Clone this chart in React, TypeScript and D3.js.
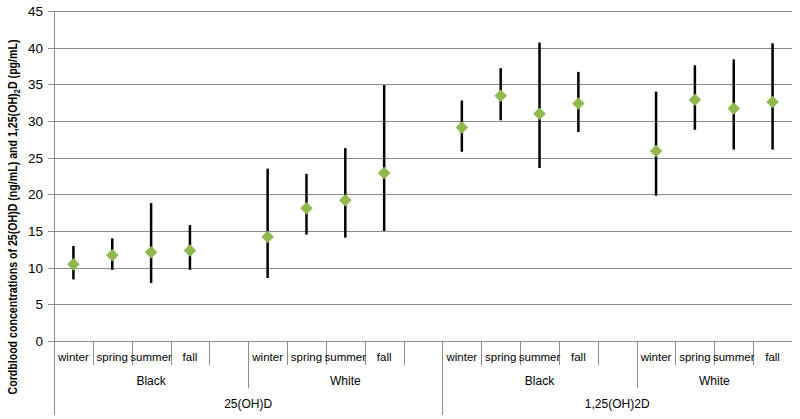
import React, { useRef, useEffect } from "react";
import * as d3 from "d3";

// seasons within each race group
const seasons = ["winter", "spring", "summer", "fall"];
const races = ["Black", "White"];
const analytes = ["25(OH)D", "1,25(OH)2D"];

// values in order: 25(OH)D Black, 25(OH)D White, 1,25 Black, 1,25 White
const means = [
  10.45, 11.7, 12.1, 12.35,
  14.2, 18.1, 19.2, 22.9,
  29.1, 33.45, 31.0, 32.4,
  25.9, 32.9, 31.7, 32.6,
];
const lows = [
  8.4, 9.7, 7.9, 9.7,
  8.6, 14.5, 14.1, 15.0,
  25.8, 30.1, 23.6, 28.5,
  19.8, 28.8, 26.1, 26.1,
];
const highs = [
  12.95, 14.0, 18.8, 15.8,
  23.5, 22.8, 26.3, 34.9,
  32.8, 37.2, 40.7, 36.7,
  34.0, 37.6, 38.4, 40.6,
];
const yTicks = [0, 5, 10, 15, 20, 25, 30, 35, 40, 45];

function App() {
  const svgRef = useRef(null);

  useEffect(() => {
    const width = 800;
    const height = 419;
    const margin = { top: 11, right: 8, bottom: 78, left: 54 };
    const axisY = height - margin.bottom;

    const svg = d3.select(svgRef.current).attr("width", width).attr("height", height);
    svg.selectAll("*").remove();

    // build slots: 4 seasons + a blank after each race group except the last
    const slots = [];
    const points = [];
    let k = 0;
    analytes.forEach((a, ai) => {
      races.forEach((r, ri) => {
        seasons.forEach((s) => {
          const id = `${a}|${r}|${s}`;
          slots.push({ id, label: s, analyte: a, race: r });
          points.push({ id, mean: means[k], lo: lows[k], hi: highs[k] });
          k++;
        });
        const last = ai === analytes.length - 1 && ri === races.length - 1;
        if (!last) slots.push({ id: `${a}|${r}|blank`, label: "", analyte: a, race: r });
      });
    });

    const x = d3
      .scaleBand()
      .domain(slots.map((d) => d.id))
      .range([margin.left, width - margin.right])
      .padding(0);
    const y = d3.scaleLinear().domain([0, 45]).range([axisY, margin.top]);

    const font = "'Liberation Sans', Arial, sans-serif";

    // gridlines
    svg.append("g")
      .selectAll("line")
      .data(yTicks)
      .enter()
      .append("line")
      .attr("x1", margin.left - 6)
      .attr("x2", width - margin.right)
      .attr("y1", (d) => Math.round(y(d)) + 0.5)
      .attr("y2", (d) => Math.round(y(d)) + 0.5)
      .attr("stroke", "#8c8c8c")
      .attr("stroke-width", 1);

    // y tick labels
    svg.append("g")
      .selectAll("text")
      .data(yTicks)
      .enter()
      .append("text")
      .attr("x", margin.left - 11)
      .attr("y", (d) => y(d) + 5)
      .attr("text-anchor", "end")
      .attr("font-family", font)
      .attr("font-size", 13.5)
      .attr("fill", "#000")
      .text((d) => d);

    // left axis line, runs down through the category levels
    svg.append("line")
      .attr("x1", margin.left + 0.5)
      .attr("x2", margin.left + 0.5)
      .attr("y1", margin.top)
      .attr("y2", height - 4)
      .attr("stroke", "#8c8c8c");

    // category tick marks
    const level1 = axisY + 24;
    const level2 = axisY + 47;
    const level3 = height - 4;
    slots.forEach((s, i) => {
      if (i === 0) return;
      const prev = slots[i - 1];
      let y2 = level1;
      if (prev.analyte !== s.analyte) y2 = level3;
      else if (prev.race !== s.race) y2 = level2;
      const xp = Math.round(x(s.id)) + 0.5;
      svg.append("line")
        .attr("x1", xp)
        .attr("x2", xp)
        .attr("y1", axisY)
        .attr("y2", y2)
        .attr("stroke", "#8c8c8c");
    });

    // season labels
    svg.append("g")
      .selectAll("text")
      .data(slots.filter((d) => d.label))
      .enter()
      .append("text")
      .attr("x", (d) => x(d.id) + x.bandwidth() / 2)
      .attr("y", axisY + 20)
      .attr("text-anchor", "middle")
      .attr("font-family", font)
      .attr("font-size", 11.5)
      .text((d) => d.label);

    // race labels
    const raceGroups = d3.groups(slots, (d) => d.analyte + "|" + d.race);
    raceGroups.forEach(([, g]) => {
      const x0 = x(g[0].id);
      const x1 = x(g[g.length - 1].id) + x.bandwidth();
      svg.append("text")
        .attr("x", (x0 + x1) / 2)
        .attr("y", axisY + 44)
        .attr("text-anchor", "middle")
        .attr("font-family", font)
        .attr("font-size", 12)
        .text(g[0].race);
    });

    // analyte labels
    const analyteGroups = d3.groups(slots, (d) => d.analyte);
    analyteGroups.forEach(([a, g]) => {
      const x0 = x(g[0].id);
      const x1 = x(g[g.length - 1].id) + x.bandwidth();
      svg.append("text")
        .attr("x", (x0 + x1) / 2)
        .attr("y", axisY + 67)
        .attr("text-anchor", "middle")
        .attr("font-family", font)
        .attr("font-size", 12)
        .text(a);
    });

    // error bars
    const cx = (d) => x(d.id) + x.bandwidth() / 2;
    svg.append("g")
      .selectAll("line")
      .data(points)
      .enter()
      .append("line")
      .attr("x1", cx)
      .attr("x2", cx)
      .attr("y1", (d) => y(d.lo))
      .attr("y2", (d) => y(d.hi))
      .attr("stroke", "#000")
      .attr("stroke-width", 2.5);

    // diamonds
    const diamond = d3.symbol().type(d3.symbolDiamond2).size(100);
    svg.append("g")
      .selectAll("path")
      .data(points)
      .enter()
      .append("path")
      .attr("d", diamond)
      .attr("transform", (d) => `translate(${cx(d)},${y(d.mean)})`)
      .attr("fill", "#8fb84e");

    // y axis title
    const title = svg.append("text")
      .attr("transform", "translate(17, 217) rotate(-90)")
      .attr("text-anchor", "middle")
      .attr("font-family", font)
      .attr("font-size", 12)
      .attr("font-weight", "bold")
      .attr("textLength", 355)
      .attr("lengthAdjust", "spacingAndGlyphs");
    title.append("tspan").text("Cordblood concentrations of 25(OH)D (ng/mL) and  1,25(OH)");
    title.append("tspan").attr("dy", 3).attr("font-size", 9).text("2");
    title.append("tspan").attr("dy", -3).text("D (pg/mL)");
  }, []);

  return (
    <svg
      ref={svgRef}
      style={{ position: "absolute", left: 0, top: 0, background: "#fff" }}
    ></svg>
  );
}

export default App;
